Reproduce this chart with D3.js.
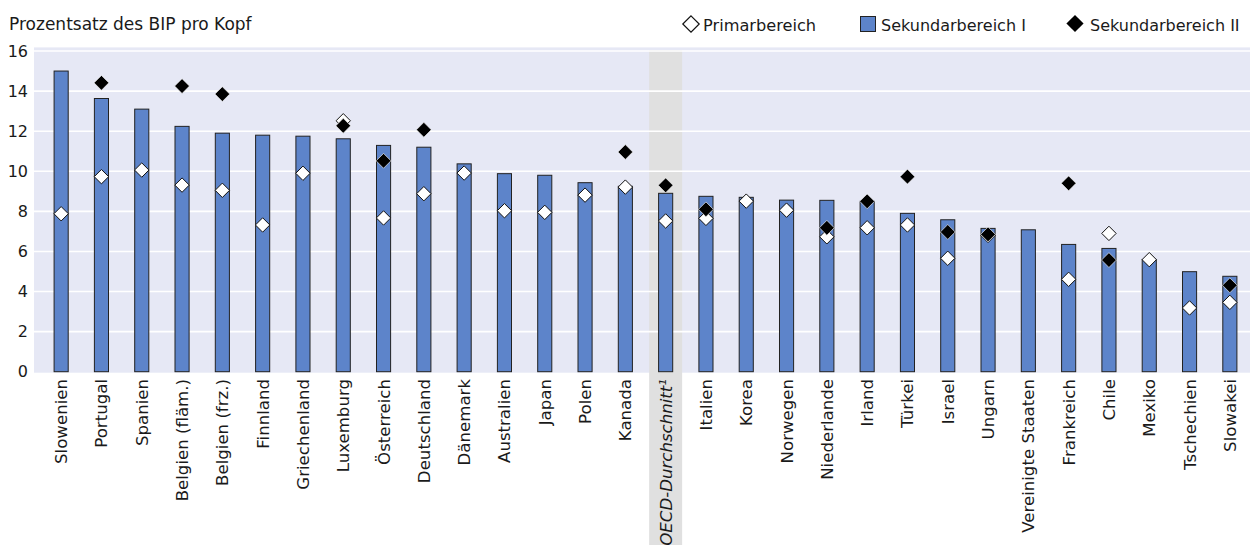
<!DOCTYPE html>
<html><head><meta charset="utf-8">
<script src="https://cdn.jsdelivr.net/npm/d3@7"></script>
<style>
html,body{margin:0;padding:0;background:#fff;}
text{font-family:"DejaVu Sans",sans-serif;fill:#1a1a1a;}
</style></head>
<body><svg id="c" width="1250" height="545"></svg>
<script>
const categories = ["Slowenien","Portugal","Spanien","Belgien (fläm.)","Belgien (frz.)","Finnland","Griechenland","Luxemburg","Österreich","Deutschland","Dänemark","Australien","Japan","Polen","Kanada","OECD-Durchschnitt¹","Italien","Korea","Norwegen","Niederlande","Irland","Türkei","Israel","Ungarn","Vereinigte Staaten","Frankreich","Chile","Mexiko","Tschechien","Slowakei"];
const lowerSecondary = [15.0,13.63,13.1,12.24,11.9,11.8,11.75,11.62,11.29,11.2,10.37,9.88,9.8,9.43,9.25,8.9,8.75,8.7,8.56,8.55,8.5,7.9,7.58,7.15,7.08,6.35,6.15,5.6,4.99,4.76];
const primary = [7.88,9.73,10.06,9.31,9.05,7.32,9.9,12.52,7.67,8.88,9.91,8.03,7.95,8.81,9.21,7.52,7.65,8.51,8.06,6.73,7.18,7.32,5.66,6.8,null,4.61,6.9,5.59,3.18,3.46];
const upperSecondary = [null,14.41,null,14.25,13.85,null,null,12.27,10.52,12.07,null,null,null,null,10.96,9.3,8.1,null,null,7.18,8.5,9.73,6.97,6.85,null,9.4,5.57,null,null,4.31];
const yTicks = [0,2,4,6,8,10,12,14,16];
const seriesNames = ["Primarbereich","Sekundarbereich I","Sekundarbereich II"];
const yTitle = "Prozentsatz des BIP pro Kopf";
const averageLabel = "OECD-Durchschnitt¹";

const svg = d3.select("#c");
const BLUE = "#5d84ca", BG = "#e6e8f5";
const x = d3.scaleBand().domain(categories).range([41,1250]).paddingInner(0.65).paddingOuter(0.325);
const y = d3.scaleLinear().domain([0,16]).range([371.7,51]);
const cx = c => x(c) + x.bandwidth()/2;

// plot background
svg.append("rect").attr("x",34).attr("y",y(16.18)).attr("width",1250-34).attr("height",y(-0.05)-y(16.18)).attr("fill",BG);
// OECD average band
svg.append("rect").attr("x",cx(averageLabel)-16.5).attr("y",y(16.05)).attr("width",33).attr("height",545-y(16.05)).attr("fill","#e0e0e0");
// gridlines
svg.append("g").selectAll("line").data(yTicks.filter(d=>d>0)).join("line")
  .attr("x1",34).attr("x2",1250).attr("y1",d=>y(d)).attr("y2",d=>y(d))
  .attr("stroke","#fff").attr("stroke-width",1.6);

// y axis labels
const yAxis = d3.axisLeft(y).tickValues(yTicks).tickSize(0).tickPadding(0);
svg.append("g").attr("transform","translate(28,0)").call(yAxis)
  .call(g=>g.select(".domain").remove())
  .selectAll("text").attr("font-size",16).attr("font-family","DejaVu Sans").attr("fill","#1a1a1a");

// bars
svg.append("g").selectAll("rect").data(categories).join("rect")
  .attr("x",d=>x(d)).attr("width",x.bandwidth())
  .attr("y",(d,i)=>y(lowerSecondary[i])).attr("height",(d,i)=>y(0)-y(lowerSecondary[i]))
  .attr("fill",BLUE).attr("stroke","#222").attr("stroke-width",1);

const diamond = r => `M0,${-r}L${r},0L0,${r}L${-r},0Z`;
// primary (white)
svg.append("g").selectAll("path").data(categories.map((c,i)=>({c,v:primary[i]})).filter(d=>d.v!=null)).join("path")
  .attr("d",diamond(7.2)).attr("transform",d=>`translate(${cx(d.c)},${y(d.v)})`)
  .attr("fill","#fff").attr("stroke","#111").attr("stroke-width",1);
// upper secondary (black)
svg.append("g").selectAll("path").data(categories.map((c,i)=>({c,v:upperSecondary[i]})).filter(d=>d.v!=null)).join("path")
  .attr("d",diamond(7.4)).attr("transform",d=>`translate(${cx(d.c)},${y(d.v)})`)
  .attr("fill","#000").attr("stroke","#fff").attr("stroke-width",0.6);

// category labels
svg.append("g")
  .selectAll("text").data(categories).join("text")
  .attr("transform",d=>`translate(${cx(d)},379) rotate(-90)`)
  .attr("text-anchor","end").attr("dy","0.36em").attr("font-size",16.6)
  .attr("font-style",d=>d===averageLabel?"italic":"normal")
  .text(d=>d);

// title
svg.append("text").attr("x",9).attr("y",30).attr("font-size",17).text(yTitle);

// legend
const lg = svg.append("g");
lg.append("path").attr("d",diamond(8.2)).attr("transform","translate(691,24)").attr("fill","#fff").attr("stroke","#111").attr("stroke-width",1.2);
lg.append("text").attr("x",703).attr("y",31).attr("font-size",16.2).text(seriesNames[0]);
lg.append("rect").attr("x",860.5).attr("y",16.5).attr("width",15).attr("height",15).attr("fill",BLUE).attr("stroke","#222");
lg.append("text").attr("x",881).attr("y",31).attr("font-size",16).text(seriesNames[1]);
lg.append("path").attr("d",diamond(8.6)).attr("transform","translate(1075,23.5)").attr("fill","#000");
lg.append("text").attr("x",1090).attr("y",31).attr("font-size",16).text(seriesNames[2]);
</script></body></html>
